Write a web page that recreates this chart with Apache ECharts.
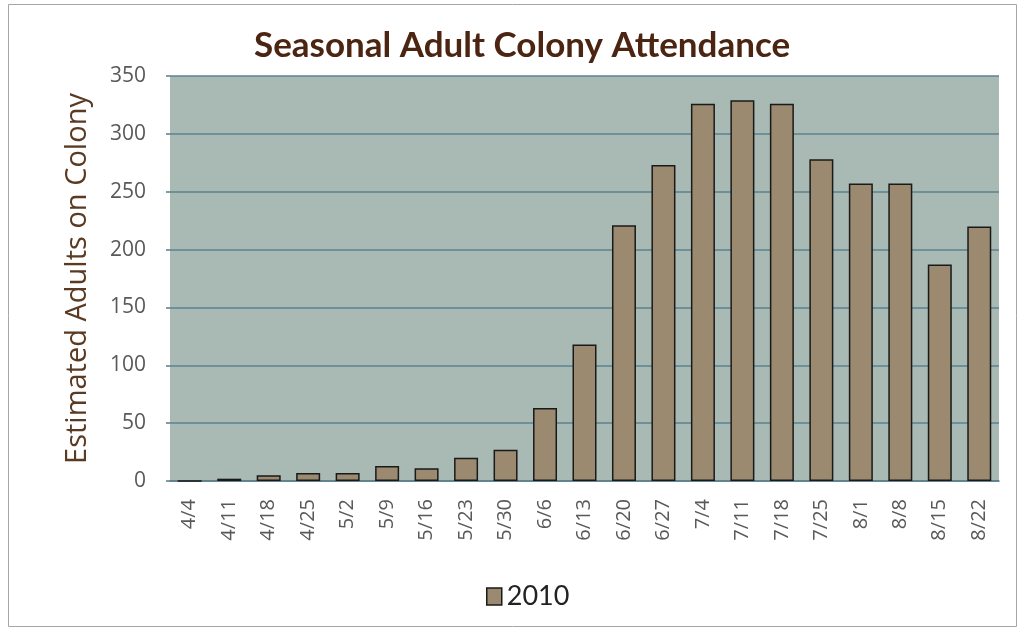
<!DOCTYPE html>
<html>
<head>
<meta charset="utf-8">
<script src="https://cdn.jsdelivr.net/npm/echarts@6/dist/echarts.min.js"></script>
<style>html,body{margin:0;padding:0;background:#fff;}#c{width:1019px;height:631px;}</style>
</head>
<body>
<div id="c"></div>
<script>
var categories = ['4/4','4/11','4/18','4/25','5/2','5/9','5/16','5/23','5/30','6/6','6/13','6/20','6/27','7/4','7/11','7/18','7/25','8/1','8/8','8/15','8/22'];
var values2010 = [0,2,5,7,7,13,11,20,27,63,118,221,273,326,329,326,278,257,257,187,220];
var yTicks = [0,50,100,150,200,250,300,350];

var chart = echarts.init(document.getElementById('c'));
chart.setOption({
  backgroundColor: '#ffffff',
  animation: false,
  graphic: [{
    type: 'rect', shape: {x: 8.5, y: 4.5, width: 1008, height: 622},
    style: {fill: 'none', stroke: '#a6a6a6', lineWidth: 1}, z: -10
  }],
  title: {
    text: 'Seasonal Adult Colony Attendance',
    left: 249, top: 23,
    textStyle: {fontFamily: 'Lato', fontWeight: 'bold', fontSize: 35, color: '#4b2512'}
  },
  legend: {
    data: ['2010'], bottom: 16, left: 481,
    icon: 'rect',
    itemWidth: 15, itemHeight: 17, itemGap: 4,
    itemStyle: {borderColor: '#1a1a1a', borderWidth: 1.5},
    textStyle: {fontFamily: 'Lato', fontSize: 27, color: '#222', padding: [0,0,0,0]}
  },
  grid: {left: 170, right: 20, top: 76, bottom: 150, backgroundColor: '#a9b9b3', show: true, borderWidth: 0},
  xAxis: {
    type: 'category', data: categories,
    axisLine: {lineStyle: {color: '#5b7d86', width: 1.5}},
    axisTick: {show: false},
    axisLabel: {rotate: 90, fontFamily: 'Open Sans', fontSize: 20, color: '#595959', margin: 18}
  },
  yAxis: {
    type: 'value', min: yTicks[0], max: yTicks[yTicks.length-1], interval: 50,
    name: 'Estimated Adults on Colony', nameLocation: 'middle', nameGap: 78, nameRotate: 90,
    nameTextStyle: {fontFamily: 'Open Sans', fontSize: 29, color: '#5a3a22'},
    axisLine: {show: false},
    axisTick: {show: true, length: 4, lineStyle: {color: '#5b7d86', width: 1.5}},
    axisLabel: {fontFamily: 'Open Sans', fontSize: 21, color: '#595959', margin: 24},
    splitLine: {lineStyle: {color: '#5b8390', width: 1.5}}
  },
  series: [{
    name: '2010', type: 'bar', data: values2010, barWidth: 24,
    itemStyle: {color: '#9b8a6f', borderColor: '#1a1a1a', borderWidth: 1.5}
  }]
});
</script>
</body>
</html>
